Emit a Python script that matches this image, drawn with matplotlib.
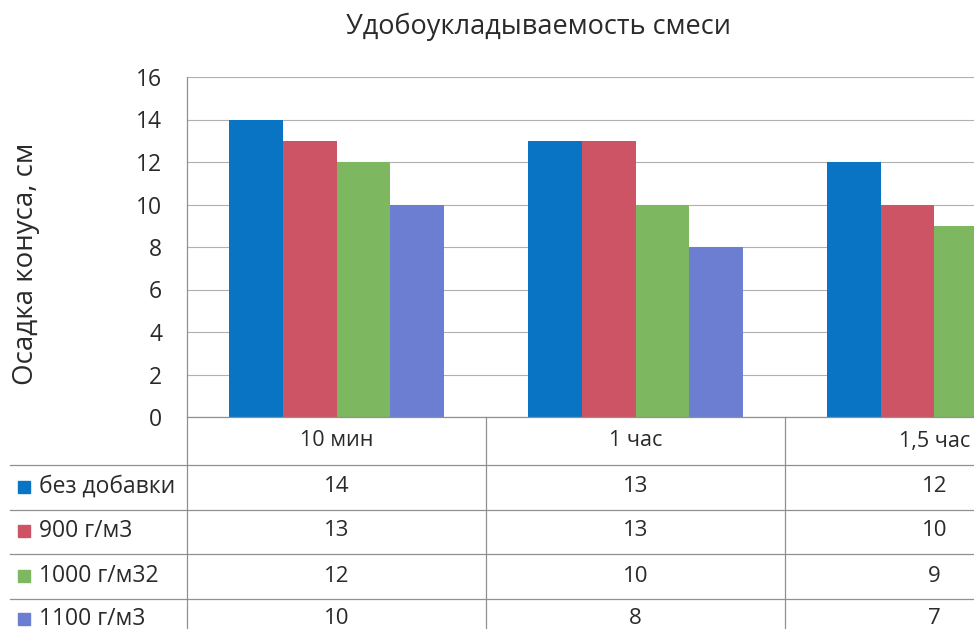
import matplotlib
matplotlib.use("Agg")
import matplotlib.pyplot as plt
from matplotlib.patches import Rectangle
from matplotlib.transforms import blended_transform_factory
from matplotlib.lines import Line2D

plt.rcParams['font.family'] = ['Open Sans', 'DejaVu Sans']

title = "Удобоукладываемость смеси"
ylabel = "Осадка конуса, см"
categories = ["10 мин", "1 час", "1,5 час"]
series_names = ["без добавки", "900 г/м3", "1000 г/м32", "1100 г/м3"]
values_none = [14, 13, 12]
values_900 = [13, 13, 10]
values_1000 = [12, 10, 9]
values_1100 = [10, 8, 7]
series_values = [values_none, values_900, values_1000, values_1100]
colors = ["#0A74C4", "#CC5464", "#7DB860", "#6C7ED2"]
yticks = [0, 2, 4, 6, 8, 10, 12, 14, 16]

W, H = 974, 629
fig = plt.figure(figsize=(W / 100, H / 100), dpi=100)
txt_c = "#2A2A2A"

def fy(py):
    return 1 - py / H

def fx(px):
    return px / W

ax_left, ax_right = 187, 1084
ax_top, ax_bot = 77, 417
ax = fig.add_axes([fx(ax_left), fy(ax_bot), fx(ax_right) - fx(ax_left), fy(ax_top) - fy(ax_bot)])

n = len(series_names)
bw = 0.18
xs = list(range(len(categories)))
for i, (vals, c) in enumerate(zip(series_values, colors)):
    off = (i - (n - 1) / 2) * bw
    ax.bar([x + off for x in xs], vals, width=bw, color=c, zorder=3, linewidth=0)

ax.set_xlim(-0.5, len(categories) - 0.5)
ax.set_ylim(0, 16)
ax.set_yticks(yticks)
ax.set_yticklabels([str(t) for t in yticks], fontsize=16.5, color=txt_c)
ax.tick_params(axis='y', length=0, pad=18)
ax.set_xticks([])
ax.grid(axis='y', color="#B0B0B0", linewidth=0.8, zorder=0)
for s in ["top", "right", "bottom"]:
    ax.spines[s].set_visible(False)
ax.spines["left"].set_color("#909090")
ax.spines["left"].set_linewidth(0.9)

fig.text(fx(538), fy(27), title, ha="center", va="center", fontsize=19.5, color=txt_c)
fig.text(fx(26), fy(264), ylabel, ha="center", va="center", rotation=90, fontsize=20, color=txt_c)

# Data table
trans = blended_transform_factory(ax.transData, fig.transFigure)
line_c = "#909090"
fig.add_artist(Line2D([fx(ax_left), 1], [fy(ax_bot), fy(ax_bot)], color=line_c, lw=0.9))
row_lines = [465, 510, 554, 599]
for ry in row_lines:
    fig.add_artist(Line2D([fx(10), 1], [fy(ry), fy(ry)], color=line_c, lw=0.9))
fig.add_artist(Line2D([fx(ax_left), fx(ax_left)], [fy(ax_bot), 0], color=line_c, lw=0.9))
for k in range(1, len(categories)):
    fig.add_artist(Line2D([k - 0.5, k - 0.5], [fy(ax_bot), 0], color=line_c, lw=0.9, transform=trans))

header_y = 441
for x, cat in zip(xs, categories):
    fig.text(x, fy(header_y), cat, transform=trans, ha="center", va="center", fontsize=15.5, color=txt_c)

row_centers = [487, 531, 576, 619]
for name, vals, c, ry in zip(series_names, series_values, colors, row_centers):
    fig.add_artist(Rectangle((fx(18), fy(ry + 6)), fx(12), 12 / H, color=c, transform=fig.transFigure))
    fig.text(fx(39), fy(ry), name, ha="left", va="center", fontsize=16.5, color=txt_c)
    for x, v in zip(xs, vals):
        fig.text(x, fy(ry), str(v), transform=trans, ha="center", va="center", fontsize=16, color=txt_c)

fig.savefig("out.png", dpi=100)
